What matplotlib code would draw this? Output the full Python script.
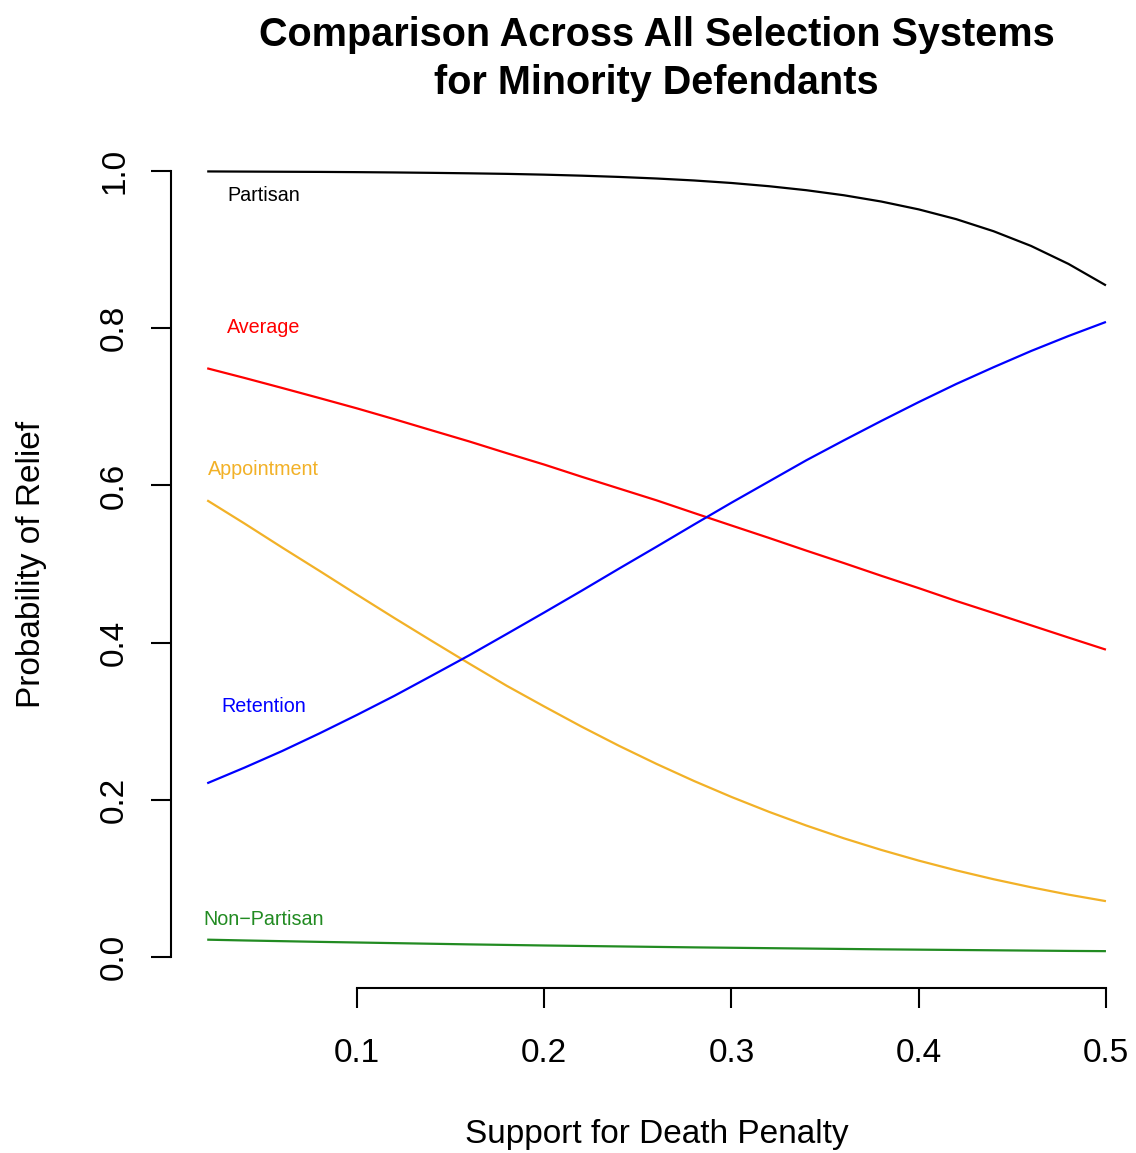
import matplotlib
matplotlib.use("Agg")
import matplotlib.pyplot as plt

plt.rcParams['font.family'] = ['Liberation Sans', 'DejaVu Sans']

# Support for death penalty (x) and predicted probabilities
support = [0.02, 0.04, 0.06, 0.08, 0.10, 0.12, 0.14, 0.16, 0.18, 0.20, 0.22, 0.24, 0.26,
           0.28, 0.30, 0.32, 0.34, 0.36, 0.38, 0.40, 0.42, 0.44, 0.46, 0.48, 0.50]
partisan = [0.9995, 0.9993, 0.9991, 0.9989, 0.9986, 0.9982, 0.9977, 0.9971, 0.9964, 0.9954,
            0.9941, 0.9925, 0.9905, 0.9880, 0.9848, 0.9807, 0.9756, 0.9692, 0.9612, 0.9512,
            0.9388, 0.9234, 0.9047, 0.8818, 0.8545]
average = [0.749, 0.7367, 0.724, 0.7111, 0.698, 0.6842, 0.670, 0.6559, 0.641, 0.6265,
           0.611, 0.5960, 0.581, 0.5649, 0.549, 0.5332, 0.517, 0.5012, 0.485, 0.4693,
           0.453, 0.4376, 0.422, 0.4064, 0.391]
appointment = [0.581, 0.5514, 0.521, 0.4912, 0.461, 0.4312, 0.402, 0.3732, 0.345, 0.3187,
               0.293, 0.2686, 0.2456, 0.2239, 0.2036, 0.1847, 0.1672, 0.1510, 0.1362, 0.1226,
               0.1102, 0.0989, 0.0887, 0.0793, 0.0710]
retention = [0.221, 0.2410, 0.262, 0.2845, 0.308, 0.3323, 0.358, 0.3839, 0.411, 0.4383,
             0.466, 0.4942, 0.522, 0.5502, 0.578, 0.6050, 0.632, 0.6573, 0.682, 0.7060,
             0.729, 0.7504, 0.771, 0.7901, 0.808]
nonpartisan = [0.0220, 0.0210, 0.0201, 0.0192, 0.0184, 0.0176, 0.0168, 0.0160, 0.0153, 0.0146,
               0.0140, 0.0134, 0.0128, 0.0122, 0.0117, 0.0112, 0.0107, 0.0102, 0.0097, 0.0093,
               0.0089, 0.0085, 0.0081, 0.0077, 0.0074]

series_names = ["Partisan", "Average", "Appointment", "Retention", "Non\u2212Partisan"]
series_colors = ["black", "#FF0000", "#F2B127", "#0000FF", "#228B22"]
label_y = [0.969, 0.801, 0.620, 0.319, 0.048]
label_x = 0.05

x_ticks = [0.1, 0.2, 0.3, 0.4, 0.5]
x_tick_labels = ["0.1", "0.2", "0.3", "0.4", "0.5"]
y_ticks = [0.0, 0.2, 0.4, 0.6, 0.8, 1.0]
y_tick_labels = ["0.0", "0.2", "0.4", "0.6", "0.8", "1.0"]

W, H = 1136, 1153
fig = plt.figure(figsize=(W / 100, H / 100), dpi=100)
left_px, right_px, top_px, bottom_px = 171.25, 1141.9, 139.6, 988.4
ax = fig.add_axes([left_px / W, 1 - bottom_px / H, (right_px - left_px) / W, (bottom_px - top_px) / H])

xlo, xhi = 0.02, 0.50
pad = (xhi - xlo) * 0.04
ax.set_xlim(xlo - pad, xhi + pad)
ax.set_ylim(-0.04, 1.04)

all_series = [partisan, average, appointment, retention, nonpartisan]
for vals, col in zip(all_series, series_colors):
    ax.plot(support, vals, color=col, lw=1.6, solid_capstyle='butt', solid_joinstyle='round')

for name, col, ly in zip(series_names, series_colors, label_y):
    ax.text(label_x, ly, name, color=col, fontsize=14.2, ha='center', va='center')

for s in ['top', 'right']:
    ax.spines[s].set_visible(False)
ax.spines['left'].set_bounds(0, 1)
ax.spines['bottom'].set_bounds(0.1, 0.5)
for s in ['left', 'bottom']:
    ax.spines[s].set_linewidth(1.5)

ax.set_xticks(x_ticks)
ax.set_yticks(y_ticks)
ax.tick_params(axis='both', length=14.4, width=1.5, labelleft=False, labelbottom=False)

# x tick labels
xt = ax.get_xaxis_transform()
xlab_y = (bottom_px - 1062) / (bottom_px - top_px)
for t, lab in zip(x_ticks, x_tick_labels):
    ax.text(t, xlab_y, lab, transform=xt, ha='center', va='baseline', fontsize=24)

# y tick labels (rotated, R style)
yt = ax.get_yaxis_transform()
ylab_x = (123 - left_px) / (right_px - left_px)
for t, lab in zip(y_ticks, y_tick_labels):
    ax.text(ylab_x, t, lab, transform=yt, ha='center', va='baseline', rotation=90,
            rotation_mode='anchor', fontsize=24)

# axis titles
cx = (left_px + right_px) / 2 / W
fig.text(cx, 1 - 1143 / H, "Support for Death Penalty", ha='center', va='baseline', fontsize=24)
fig.text(40 / W, 1 - (top_px + bottom_px) / 2 / H, "Probability of Relief", ha='center', va='baseline',
         rotation=90, rotation_mode='anchor', fontsize=24)

# title
fig.text(cx, 1 - 46 / H, "Comparison Across All Selection Systems", ha='center', va='baseline',
         fontsize=28.5, fontweight='bold')
fig.text(cx, 1 - 94 / H, "for Minority Defendants", ha='center', va='baseline',
         fontsize=28.5, fontweight='bold')

fig.savefig("out.png", dpi=100)
